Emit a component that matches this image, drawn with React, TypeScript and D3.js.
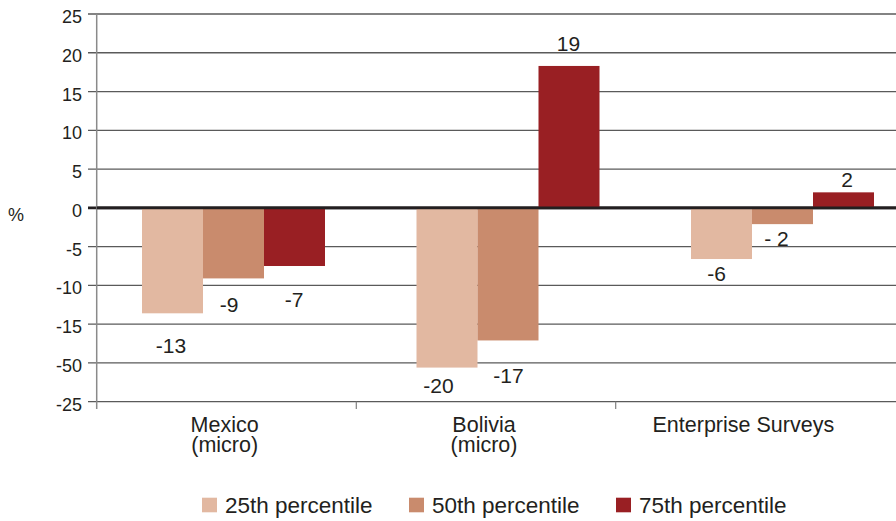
import * as d3 from "d3";

// categories + series
const categories = ["Mexico (micro)", "Bolivia (micro)", "Enterprise Surveys"];
const categoryLines = [["Mexico", "(micro)"], ["Bolivia", "(micro)"], ["Enterprise Surveys"]];
const seriesNames = ["25th percentile", "50th percentile", "75th percentile"];

const p25 = [-13.6, -20.6, -6.6];
const p50 = [-9.1, -17.1, -2.1];
const p75 = [-7.5, 18.3, 2.0];

// printed labels as they appear on the chart
const p25Labels = ["-13", "-20", "-6"];
const p50Labels = ["-9", "-17", "- 2"];
const p75Labels = ["-7", "19", "2"];

const yTicks = [25, 20, 15, 10, 5, 0, -5, -10, -15, -20, -25];
const yTickLabels = ["25", "20", "15", "10", "5", "0", "-5", "-10", "-15", "-50", "-25"];

// hand-placed label offsets [dx, dy] per category, per series
const labelNudge = [
  [[-1.5, 40], [-4.5, 34], [-0.5, 41]],
  [[-8.5, 25], [0.5, 43], [-0.5, -15]],
  [[-5, 22], [-6, 22], [3.5, -5]],
];

const colors = ["#E2B8A1", "#C98B6D", "#991F23"];
const ink = "#231F20";
const font = "'Liberation Sans', Arial, sans-serif";

const W = 896;
const H = 521;

const App = () => {
  const series = [p25, p50, p75];
  const labels = [p25Labels, p50Labels, p75Labels];

  const y = d3.scaleLinear().domain([-25, 25]).range([401.7, 14]);
  const axisX = d3.scaleBand().domain(categories).range([97, 875]);
  const groupX = d3
    .scaleBand()
    .domain(categories)
    .range([96.25, 919.75])
    .paddingInner(1 / 3)
    .paddingOuter(1 / 6);
  const barX = d3.scaleBand().domain(seriesNames).range([0, groupX.bandwidth()]);

  const legendX = d3.scaleOrdinal<string, number>().domain(seriesNames).range([202, 409, 616]);

  return (
    <svg
      width={W}
      height={H}
      style={{ position: "absolute", left: 0, top: 0, background: "#fff" }}
      fontFamily={font}
    >
      {/* gridlines */}
      {yTicks.map((t) => (
        <line
          key={t}
          x1={88}
          x2={W}
          y1={y(t)}
          y2={y(t)}
          stroke={t === 0 ? ink : "#5a5a5a"}
          strokeWidth={t === 0 ? 2.6 : 1.3}
        />
      ))}
      {/* y axis */}
      <line x1={96.7} x2={96.7} y1={y(25)} y2={409} stroke="#8a8a8a" strokeWidth={1.5} />
      {yTicks.map((t, i) => (
        <text key={"l" + t} x={82} y={y(t) + 9} textAnchor="end" fontSize={18} fill={ink}>
          {yTickLabels[i]}
        </text>
      ))}
      <text x={8} y={221} fontSize={18} fill={ink}>
        %
      </text>

      {/* category ticks + labels */}
      {categories.slice(1).map((c) => (
        <line
          key={"t" + c}
          x1={axisX(c)!}
          x2={axisX(c)!}
          y1={y(-25)}
          y2={409}
          stroke="#8a8a8a"
          strokeWidth={1.3}
        />
      ))}
      {categories.map((c, i) =>
        categoryLines[i].map((ln, j) => (
          <text
            key={"c" + c + j}
            x={axisX(c)! + axisX.bandwidth() / 2 - 2}
            y={431.7 + j * 20}
            textAnchor="middle"
            fontSize={21.5}
            fill={ink}
          >
            {ln}
          </text>
        ))
      )}

      {/* bars */}
      {categories.map((c, ci) =>
        seriesNames.map((s, si) => {
          const v = series[si][ci];
          const x0 = groupX(c)! + barX(s)!;
          return (
            <rect
              key={c + s}
              x={x0}
              y={Math.min(y(v), y(0))}
              width={barX.bandwidth()}
              height={Math.abs(y(v) - y(0))}
              fill={colors[si]}
            />
          );
        })
      )}
      {/* zero line drawn again over the bars */}
      <line x1={96.7} x2={W} y1={y(0)} y2={y(0)} stroke={ink} strokeWidth={2.6} />

      {/* value labels */}
      {categories.map((c, ci) =>
        seriesNames.map((s, si) => {
          const v = series[si][ci];
          const [dx, dy] = labelNudge[ci][si];
          const cx = groupX(c)! + barX(s)! + barX.bandwidth() / 2;
          return (
            <text
              key={"v" + c + s}
              x={cx + dx}
              y={y(v) + dy}
              textAnchor="middle"
              fontSize={21}
              fill={ink}
            >
              {labels[si][ci]}
            </text>
          );
        })
      )}

      {/* legend */}
      {seriesNames.map((s, si) => (
        <g key={"lg" + s} transform={`translate(${legendX(s)},0)`}>
          <rect x={0} y={497.7} width={15} height={14.6} fill={colors[si]} />
          <text x={23} y={513} fontSize={22.5} fill={ink}>
            {s}
          </text>
        </g>
      ))}
    </svg>
  );
};

export default App;
